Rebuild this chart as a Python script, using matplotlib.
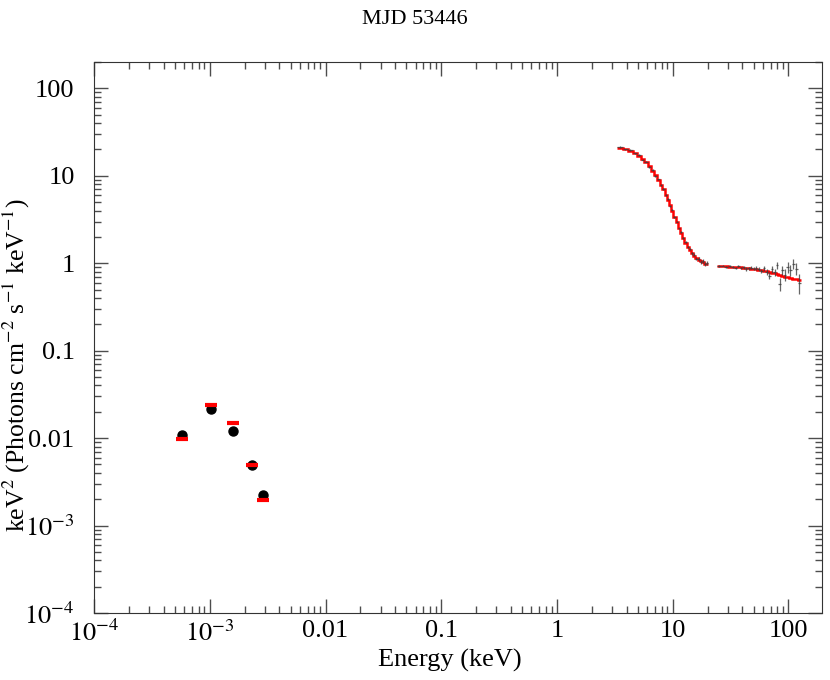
import numpy as np
import matplotlib
matplotlib.use("Agg")
import matplotlib.pyplot as plt
from matplotlib.ticker import FixedLocator, FixedFormatter, LogLocator, NullFormatter

plt.rcParams['font.family'] = ['Liberation Serif', 'DejaVu Serif']
plt.rcParams['mathtext.fontset'] = 'stix'

# optical / UV points (keV, keV^2 flux)
opt_e = [5.79e-4, 1.018e-3, 1.58e-3, 2.30e-3, 2.90e-3]
opt_flux = [0.0108, 0.0213, 0.0121, 0.00491, 0.00223]
opt_err = [0.0006, 0.0011, 0.0007, 0.0003, 0.00015]
opt_model = [0.0099, 0.0238, 0.0150, 0.0049, 0.00195]

# PCA bins
pca_edges = [3.3, 3.7, 4.1, 4.5, 4.9, 5.3, 5.7, 6.1, 6.5, 6.9, 7.3, 7.7, 8.1, 8.5,
             8.9, 9.3, 9.7, 10.1, 10.6, 11.1, 11.6, 12.1, 12.6, 13.2, 13.8, 14.4,
             15.0, 15.7, 16.4, 17.1, 17.9, 18.7, 19.5, 20.3]
pca_model = [20.8, 20.2, 19.3, 18.2, 17.0, 15.6, 14.2, 12.8, 11.4, 10.1, 8.9, 7.9,
             7.0, 6.1, 5.3, 4.6, 4.0, 3.4, 2.95, 2.55, 2.2, 1.95, 1.72, 1.55, 1.42,
             1.31, 1.22, 1.15, 1.09, 1.05, 1.02, 0.99, 0.97]
pca_flux = [21.3, 20.0, 19.6, 18.0, 17.3, 15.3, 14.5, 12.6, 11.7, 9.9, 9.1, 7.8,
            7.1, 6.0, 5.4, 4.5, 4.1, 3.35, 3.0, 2.5, 2.25, 1.93, 1.76, 1.53, 1.45,
            1.30, 1.25, 1.13, 1.12, 1.04, 1.06, 0.98, 1.00]
pca_err = [0.5, 0.4, 0.4, 0.35, 0.35, 0.3, 0.3, 0.25, 0.25, 0.2, 0.2, 0.17,
           0.15, 0.13, 0.12, 0.1, 0.09, 0.08, 0.07, 0.06, 0.06, 0.05, 0.05, 0.05, 0.05,
           0.05, 0.05, 0.05, 0.05, 0.05, 0.05, 0.05, 0.05]

# HEXTE bins
hx_edges = [24, 26, 28, 30, 32, 34, 36, 38, 40, 42, 44, 46.5, 49, 51.5, 54, 57,
            60, 63, 66.5, 70, 74, 78, 82, 86.5, 91, 96, 101, 107, 113, 120, 128]
hx_model = [0.93, 0.925, 0.92, 0.915, 0.91, 0.905, 0.90, 0.895, 0.89, 0.88, 0.875,
            0.87, 0.86, 0.85, 0.84, 0.83, 0.82, 0.81, 0.795, 0.78, 0.765, 0.75,
            0.735, 0.72, 0.705, 0.69, 0.675, 0.665, 0.655, 0.64]
hx_flux = [0.93, 0.94, 0.90, 0.93, 0.91, 0.89, 0.93, 0.88, 0.90, 0.86, 0.88, 0.89,
           0.87, 0.89, 0.86, 0.82, 0.88, 0.80, 0.72, 0.85, 0.79, 0.95, 0.58, 0.83,
           0.74, 0.90, 0.83, 0.98, 0.87, 0.60]
hx_err = [0.02, 0.02, 0.02, 0.025, 0.025, 0.025, 0.03, 0.03, 0.03, 0.035, 0.035,
          0.04, 0.04, 0.045, 0.05, 0.05, 0.055, 0.06, 0.065, 0.07, 0.08, 0.09, 0.1,
          0.1, 0.11, 0.12, 0.12, 0.13, 0.14, 0.15]

fig = plt.figure(figsize=(8.3, 6.8), dpi=100)
ax = fig.add_axes([0.1133, 0.0985, 0.8771, 0.8103])

for edges, flux, err, model in [(pca_edges, pca_flux, pca_err, pca_model),
                                (hx_edges, hx_flux, hx_err, hx_model)]:
    edges = np.array(edges)
    cen = np.sqrt(edges[:-1] * edges[1:])
    ax.stairs(model, edges, color='red', lw=1.8, baseline=None, zorder=2)
    ax.errorbar(cen, flux, yerr=err, xerr=[cen - edges[:-1], edges[1:] - cen],
                fmt='none', ecolor='0.25', elinewidth=0.9, alpha=0.8, zorder=3)

ax.errorbar(opt_e, opt_flux, yerr=opt_err,
            xerr=[np.array(opt_e) * 0.06, np.array(opt_e) * 0.06],
            fmt='o', color='black', ms=6.5, elinewidth=1.2, zorder=3)
ax.plot(opt_e, opt_model, ls='none', marker='_', ms=9, mew=3, color='red', zorder=4)

ax.set_xscale('log')
ax.set_yscale('log')
ax.set_xlim(1e-4, 195)
ax.set_ylim(1e-4, 200)

xt = [1e-4, 1e-3, 0.01, 0.1, 1, 10, 100]
xl = [r'$10^{-4}$', r'$10^{-3}$', '0.01', '0.1', '1', '10', '100']
ax.xaxis.set_major_locator(FixedLocator(xt))
ax.xaxis.set_major_formatter(FixedFormatter(xl))
ax.yaxis.set_major_locator(FixedLocator(xt))
ax.yaxis.set_major_formatter(FixedFormatter(xl))
for a in (ax.xaxis, ax.yaxis):
    a.set_minor_locator(LogLocator(base=10, subs=np.arange(2, 10), numticks=20))
    a.set_minor_formatter(NullFormatter())

ax.tick_params(which='both', direction='in', top=True, right=True,
               labelsize=19, color='0.3')
ax.tick_params(which='major', length=10, width=1)
ax.tick_params(which='minor', length=5, width=1)
ax.tick_params(axis='x', pad=5)
ax.tick_params(axis='y', pad=14)
for s in ax.spines.values():
    s.set_color('0.2')

ax.set_xlabel('Energy (keV)', fontsize=19)
ax.xaxis.set_label_coords(0.489, -0.065)
ax.set_ylabel(r'keV$^2$ (Photons cm$^{-2}$ s$^{-1}$ keV$^{-1}$)', fontsize=18.5)
ax.yaxis.set_label_coords(-0.085, 0.45)
fig.text(0.5, 0.985, 'MJD 53446', ha='center', va='top', fontsize=16)

fig.savefig('out.png', dpi=100)
